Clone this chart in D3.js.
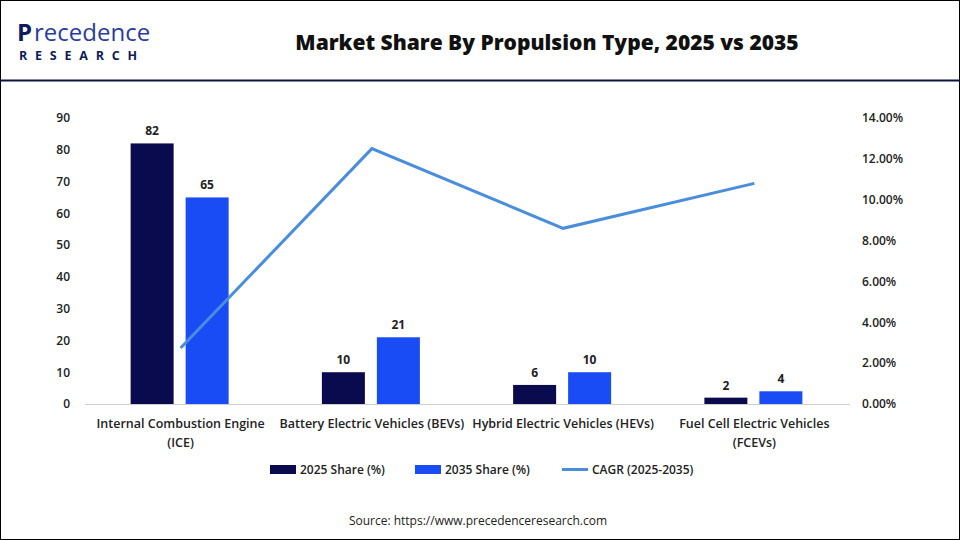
<!DOCTYPE html>
<html><head><meta charset="utf-8">
<script src="https://cdn.jsdelivr.net/npm/d3@7"></script>
<style>body{margin:0;background:#fff}svg{display:block;font-family:"Open Sans",Arial,sans-serif}</style>
</head><body><svg id="c" width="960" height="540"></svg>
<script>
const categories=["Internal Combustion Engine (ICE)","Battery Electric Vehicles (BEVs)","Hybrid Electric Vehicles (HEVs)","Fuel Cell Electric Vehicles (FCEVs)"];
const catLines=[["Internal Combustion Engine","(ICE)"],["Battery Electric Vehicles (BEVs)"],["Hybrid Electric Vehicles (HEVs)"],["Fuel Cell Electric Vehicles","(FCEVs)"]];
const share2025=[82,10,6,2];
const share2035=[65,21,10,4];
const cagr=[2.74,12.5,8.6,10.8];
const leftTicks=[0,10,20,30,40,50,60,70,80,90];
const rightTicks=[0,2,4,6,8,10,12,14];

const svg=d3.select("#c");
svg.append("rect").attr("x",0.5).attr("y",0.5).attr("width",959).attr("height",539).attr("fill","#fff").attr("stroke","#000");
svg.append("line").attr("x1",0).attr("x2",960).attr("y1",80.5).attr("y2",80.5).attr("stroke","#0d1440").attr("stroke-width",2);
// logo
const lg=svg.append("g");
lg.append("text").attr("x",17).attr("y",41).attr("font-size",24).attr("font-weight",700).attr("fill","#0d1a5c").text("P");
lg.append("text").attr("x",34).attr("y",41).attr("font-size",24).attr("fill","#2a3d9c").text("recedence");
lg.append("text").attr("x",19).attr("y",60).attr("font-size",12.5).attr("font-weight",700).attr("fill","#0d1a5c").attr("letter-spacing",7.8).text("RESEARCH");
svg.append("text").attr("x",547).attr("y",50).attr("text-anchor","middle").attr("font-size",21).attr("font-weight",800).attr("fill","#111").text("Market Share By Propulsion Type, 2025 vs 2035");

const x=d3.scaleBand().domain(categories).range([85,850]);
const y=d3.scaleLinear().domain([0,90]).range([404,118]);
const yr=d3.scaleLinear().domain([0,14]).range([404,118]);
const fs=12;
const la=svg.append("g").attr("transform","translate(85,0)").call(d3.axisLeft(y).tickValues(leftTicks).tickSize(0).tickPadding(15));
la.select(".domain").remove();
la.selectAll("text").attr("font-size",fs).attr("font-weight",600).attr("fill","#222").attr("font-family","Open Sans");
const ra=svg.append("g").attr("transform","translate(850,0)").call(d3.axisRight(yr).tickValues(rightTicks).tickFormat(d=>d.toFixed(2)+"%").tickSize(0).tickPadding(12));
ra.select(".domain").remove();
ra.selectAll("text").attr("font-size",fs).attr("font-weight",600).attr("fill","#222").attr("font-family","Open Sans");
svg.append("line").attr("x1",85).attr("x2",850).attr("y1",404.5).attr("y2",404.5).attr("stroke","#d0d0d0");

const bw=43;
const series=[{v:share2025,c:"#0a0a4e",off:-50},{v:share2035,c:"#1a4cf5",off:5}];
series.forEach(s=>{
  svg.selectAll(null).data(categories).enter().append("rect")
   .attr("x",d=>x(d)+x.bandwidth()/2+s.off).attr("width",bw)
   .attr("y",(d,i)=>y(s.v[i])).attr("height",(d,i)=>404-y(s.v[i])).attr("fill",s.c);
  svg.selectAll(null).data(categories).enter().append("text")
   .attr("x",d=>x(d)+x.bandwidth()/2+s.off+bw/2).attr("y",(d,i)=>y(s.v[i])-8)
   .attr("text-anchor","middle").attr("font-size",12).attr("font-weight",700).attr("fill","#222")
   .text((d,i)=>s.v[i]);
});
const line=d3.line().x((d,i)=>x(categories[i])+x.bandwidth()/2).y(d=>yr(d));
svg.append("path").datum(cagr).attr("d",line).attr("fill","none").attr("stroke","#4a8ddc").attr("stroke-width",3);

catLines.forEach((ls,i)=>{
  const t=svg.append("text").attr("text-anchor","middle").attr("font-size",12.5).attr("font-weight",600).attr("fill","#222");
  ls.forEach((l,j)=>t.append("tspan").attr("x",x(categories[i])+x.bandwidth()/2).attr("y",428+j*19).text(l));
});
const leg=[{t:"2025 Share (%)",c:"#0a0a4e",x:270},{t:"2035 Share (%)",c:"#1a4cf5",x:415}];
leg.forEach(l=>{
  svg.append("rect").attr("x",l.x).attr("y",465).attr("width",26).attr("height",9).attr("fill",l.c);
  svg.append("text").attr("x",l.x+30).attr("y",474).attr("font-size",12).attr("font-weight",600).attr("fill","#222").text(l.t);
});
svg.append("line").attr("x1",562).attr("x2",588).attr("y1",469.5).attr("y2",469.5).attr("stroke","#4a8ddc").attr("stroke-width",3);
svg.append("text").attr("x",592).attr("y",474).attr("font-size",12).attr("font-weight",600).attr("fill","#222").text("CAGR (2025-2035)");
svg.append("text").attr("x",478).attr("y",525).attr("text-anchor","middle").attr("font-size",12).attr("fill","#222").text("Source: https://www.precedenceresearch.com");
</script></body></html>
